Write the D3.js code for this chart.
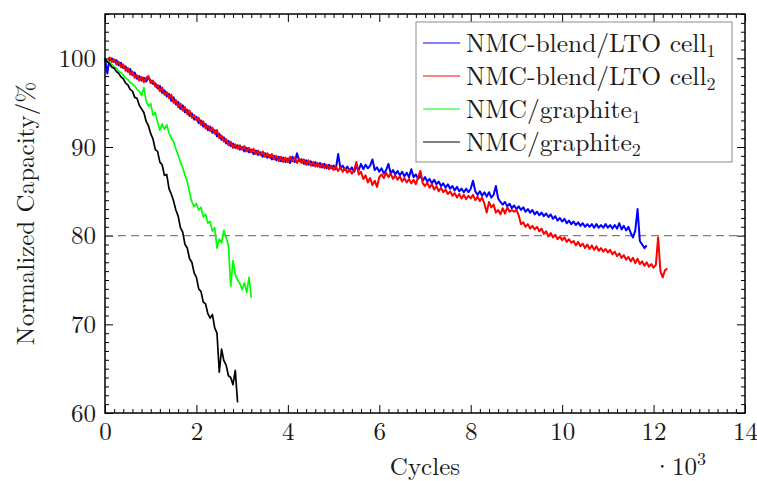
<!DOCTYPE html>
<html>
<head>
<meta charset="utf-8">
<script src="https://cdn.jsdelivr.net/npm/d3@7"></script>
<style>
  body { margin: 0; background: #fff; }
</style>
</head>
<body>
<div id="chart"></div>
<script>
// one reading every 50 cycles, values in % of initial capacity
var cycleStep = 50;

var ltoCell1 = [
  100.0, 98.3, 99.9, 100.0, 99.6, 99.8, 99.2, 99.5, 98.9, 99.1, 98.5, 98.8, 98.1, 98.4, 97.7, 98.0, 97.5, 97.8, 97.4, 97.8,
  97.5, 97.1, 97.2, 96.6, 96.9, 96.1, 96.4, 95.7, 96.0, 95.2, 95.6, 94.8, 95.1, 94.3, 94.7, 93.9, 94.2, 93.5, 93.8, 93.1,
  93.4, 92.7, 93.0, 92.3, 92.6, 91.9, 92.3, 91.6, 91.9, 91.2, 91.5, 90.8, 91.1, 90.4, 90.7, 90.1, 90.4, 89.9, 90.2, 89.7,
  90.0, 89.5, 89.9, 89.4, 89.7, 89.2, 89.6, 89.1, 89.4, 88.9, 89.3, 88.8, 89.1, 88.6, 89.0, 88.5, 88.9, 88.4, 88.8, 88.3,
  88.7, 88.2, 88.9, 88.3, 89.3, 88.4, 88.6, 88.1, 88.5, 88.0, 88.4, 87.9, 88.3, 87.8, 88.2, 87.7, 88.1, 87.6, 88.0, 87.6,
  87.9, 87.5, 89.2, 87.6, 87.9, 87.4, 87.8, 87.3, 87.7, 87.2, 87.8, 87.4, 88.1, 87.5, 88.0, 87.6, 87.9, 88.6, 87.4, 87.7,
  87.2, 87.6, 87.0, 87.4, 88.1, 87.0, 87.4, 86.9, 87.3, 86.8, 87.2, 86.7, 87.1, 86.6, 87.5, 86.6, 86.9, 86.4, 86.8, 86.2,
  86.6, 86.1, 86.4, 85.9, 86.3, 85.8, 86.1, 85.6, 85.9, 85.4, 85.8, 85.3, 85.6, 85.1, 85.5, 85.0, 85.3, 84.9, 85.3, 84.9,
  85.3, 86.2, 85.0, 84.6, 85.0, 84.5, 84.9, 84.4, 84.9, 84.3, 84.6, 85.6, 84.2, 83.8, 83.5, 83.8, 83.3, 83.6, 83.1, 83.4,
  83.0, 83.3, 82.9, 83.2, 82.7, 83.0, 82.6, 82.9, 82.4, 82.7, 82.3, 82.6, 82.2, 82.5, 82.1, 82.4, 81.9, 82.2, 81.7, 82.0,
  81.6, 81.9, 81.4, 81.7, 81.3, 81.6, 81.2, 81.5, 81.1, 81.4, 81.0, 81.3, 81.0, 81.3, 80.9, 81.3, 80.9, 81.2, 80.9, 81.3,
  80.9, 81.2, 80.8, 81.2, 80.8, 81.4, 80.7, 81.1, 80.6, 81.0, 80.3, 79.8, 80.6, 83.0, 79.4, 79.0, 78.6, 78.9
];

var ltoCell2 = [
  100.0, 99.8, 100.1, 99.6, 99.9, 99.3, 99.6, 99.0, 99.3, 98.6, 98.9, 98.2, 98.5, 97.8, 98.1, 97.5, 97.9, 97.3, 97.8, 98.0,
  97.2, 97.5, 96.8, 97.0, 96.3, 96.7, 95.9, 96.2, 95.5, 95.9, 95.0, 95.3, 94.5, 94.9, 94.1, 94.5, 93.7, 94.1, 93.3, 93.6,
  93.0, 93.3, 92.5, 92.9, 92.1, 92.4, 91.8, 92.2, 91.5, 91.9, 91.0, 91.3, 90.6, 90.9, 90.2, 90.6, 89.9, 90.3, 89.8, 90.2,
  89.7, 90.1, 89.5, 89.9, 89.4, 89.8, 89.2, 89.6, 89.1, 89.5, 88.9, 89.3, 88.8, 89.2, 88.6, 89.0, 88.4, 88.9, 88.3, 88.8,
  88.3, 88.9, 88.4, 88.8, 88.2, 88.7, 88.2, 88.6, 88.0, 88.5, 87.9, 88.3, 87.8, 88.2, 87.7, 88.1, 87.6, 88.0, 87.5, 87.9,
  87.4, 87.8, 87.3, 87.7, 87.2, 87.6, 87.1, 87.5, 87.0, 87.4, 88.3, 86.9, 87.2, 86.4, 86.8, 86.0, 86.5, 85.7, 86.2, 85.5,
  86.6, 86.9, 86.5, 87.1, 86.6, 87.0, 86.4, 86.8, 86.3, 86.7, 86.1, 86.5, 86.0, 86.4, 85.9, 86.3, 85.8, 86.6, 87.3, 85.9,
  85.6, 86.0, 85.4, 85.8, 85.2, 85.6, 85.0, 85.4, 84.9, 85.2, 84.7, 85.0, 84.5, 84.8, 84.3, 84.7, 84.2, 84.6, 84.1, 84.5,
  84.2, 84.6, 84.0, 84.4, 83.9, 84.3, 83.6, 82.6, 83.8, 83.2, 83.5, 82.6, 82.9, 82.4, 83.1, 82.5, 83.2, 82.7, 82.9, 82.7,
  82.9, 82.3, 81.3, 81.5, 81.0, 81.3, 80.8, 81.1, 80.7, 81.0, 80.5, 80.8, 80.2, 80.5, 79.9, 80.3, 79.8, 80.1, 79.6, 79.9,
  79.5, 79.8, 79.3, 79.6, 79.2, 79.4, 78.9, 79.3, 78.8, 79.1, 78.6, 79.0, 78.5, 78.9, 78.4, 78.8, 78.3, 78.6, 78.2, 78.5,
  78.1, 78.4, 77.9, 78.2, 77.7, 78.0, 77.5, 77.8, 77.3, 77.6, 77.1, 77.5, 76.9, 77.4, 76.8, 77.1, 76.6, 77.0, 76.5, 76.8,
  76.4, 76.7, 79.8, 76.0, 75.3, 76.1, 76.3
];

var graphite1 = [
  100.0, 99.8, 99.5, 99.3, 99.0, 98.9, 98.5, 98.4, 98.1, 97.8,
  97.6, 97.3, 97.1, 96.9, 96.5, 96.3, 95.8, 96.7, 95.2, 94.6,
  94.9, 93.6, 93.9, 92.8, 91.9, 92.6, 92.0, 92.5, 91.6, 91.0,
  90.6, 89.8, 89.1, 88.3, 87.7, 86.8, 86.1, 84.9, 83.8, 83.3,
  83.6, 82.9, 83.2, 82.1, 82.4, 81.4, 81.6, 80.5, 80.9, 78.6,
  79.6, 79.2, 80.6, 79.8, 78.9, 74.3, 77.2, 75.6, 75.0, 74.6,
  73.9, 74.7, 73.6, 75.3, 73.0
];

var graphite2 = [
  100.0, 99.6, 99.4, 99.0, 98.9, 98.5, 98.3, 97.9, 97.7, 97.2,
  97.0, 96.5, 96.3, 95.6, 95.5, 94.7, 94.3, 93.9, 92.9, 92.4,
  91.5, 90.9, 89.7, 89.5, 88.3, 88.0, 86.8, 86.9, 85.3, 84.7,
  83.9, 82.9, 82.2, 80.9, 80.4, 79.0, 78.6, 77.4, 77.0, 75.8,
  75.3, 74.0, 73.7, 72.5, 72.3, 71.2, 70.7, 71.1, 69.6, 69.0,
  64.6, 67.2, 65.9, 65.4, 64.2, 64.0, 63.2, 64.8, 61.2
];

var seriesNames = [["NMC-blend/LTO cell", "1"], ["NMC-blend/LTO cell", "2"], ["NMC/graphite", "1"], ["NMC/graphite", "2"]];
var seriesColors = ["#0000ff", "#ff0000", "#00ff00", "#000000"];
var xTicks = [0, 2, 4, 6, 8, 10, 12, 14];   // thousands of cycles
var yTicks = [60, 70, 80, 90, 100];
var eolLimit = 80;

var serif = "'Latin Modern Roman', 'Liberation Serif', serif";
var textColor = "#1a1a1a";

var width = 757, height = 481;
var margin = {top: 14, right: 12, bottom: 68, left: 105};
var plotW = width - margin.left - margin.right,
    plotH = height - margin.top - margin.bottom;

var x = d3.scaleLinear().domain([0, 14]).range([0, plotW]);
var y = d3.scaleLinear().domain([60, 105]).range([plotH, 0]);

var svg = d3.select("#chart").append("svg")
    .attr("width", width)
    .attr("height", height);

var g = svg.append("g")
    .attr("transform", "translate(" + margin.left + "," + margin.top + ")");

var xMinor = d3.range(0, 14.001, 0.2).filter(function(v) { return Math.abs(v / 2 - Math.round(v / 2)) > 1e-6; });
var yMinor = d3.range(60, 105.001, 1).filter(function(v) { return v % 10 !== 0; });

function styleAxis(sel) {
  sel.attr("font-family", null).attr("font-size", null);
  sel.select(".domain").remove();
  sel.selectAll("line").attr("stroke", "#000").attr("stroke-width", 1);
  sel.selectAll("text")
    .attr("fill", textColor)
    .style("font-family", serif)
    .style("font-size", "25px");
}

// bottom
g.append("g").attr("transform", "translate(0," + plotH + ")")
  .call(d3.axisBottom(x).tickValues(xTicks).tickSizeInner(-8).tickSizeOuter(0).tickPadding(9).tickFormat(d3.format("d")))
  .call(styleAxis);
g.append("g").attr("transform", "translate(0," + plotH + ")")
  .call(d3.axisBottom(x).tickValues(xMinor).tickSizeInner(-4).tickSizeOuter(0).tickFormat(""))
  .call(styleAxis);
// top
g.append("g")
  .call(d3.axisTop(x).tickValues(xTicks).tickSizeInner(-8).tickSizeOuter(0).tickFormat(""))
  .call(styleAxis);
g.append("g")
  .call(d3.axisTop(x).tickValues(xMinor).tickSizeInner(-4).tickSizeOuter(0).tickFormat(""))
  .call(styleAxis);
// left
g.append("g")
  .call(d3.axisLeft(y).tickValues(yTicks).tickSizeInner(-8).tickSizeOuter(0).tickPadding(9).tickFormat(d3.format("d")))
  .call(styleAxis);
g.append("g")
  .call(d3.axisLeft(y).tickValues(yMinor).tickSizeInner(-4).tickSizeOuter(0).tickFormat(""))
  .call(styleAxis);
// right
g.append("g").attr("transform", "translate(" + plotW + ",0)")
  .call(d3.axisRight(y).tickValues(yTicks).tickSizeInner(-8).tickSizeOuter(0).tickFormat(""))
  .call(styleAxis);
g.append("g").attr("transform", "translate(" + plotW + ",0)")
  .call(d3.axisRight(y).tickValues(yMinor).tickSizeInner(-4).tickSizeOuter(0).tickFormat(""))
  .call(styleAxis);

// end-of-life line
g.append("line")
  .attr("x1", 0).attr("x2", plotW)
  .attr("y1", y(eolLimit)).attr("y2", y(eolLimit))
  .attr("stroke", "#7f7f7f")
  .attr("stroke-width", 1.3)
  .attr("stroke-dasharray", "8,5");

var line = d3.line()
  .x(function(d, i) { return x(i * cycleStep / 1000); })
  .y(function(d) { return y(d); });

var allSeries = [ltoCell1, ltoCell2, graphite1, graphite2];
var seriesWidths = [2.0, 2.0, 1.7, 1.7];

g.selectAll("path.series")
    .data(allSeries)
    .enter()
  .append("path")
    .attr("class", "series")
    .attr("d", line)
    .attr("fill", "none")
    .attr("stroke", function(d, i) { return seriesColors[i]; })
    .attr("stroke-width", function(d, i) { return seriesWidths[i]; })
    .attr("stroke-linejoin", "round");

// frame
g.append("rect")
  .attr("width", plotW).attr("height", plotH)
  .attr("fill", "none")
  .attr("stroke", "#000")
  .attr("stroke-width", 1.5);

// legend
var legend = svg.append("g").attr("transform", "translate(416,22)");
legend.append("rect")
  .attr("width", 316).attr("height", 140)
  .attr("fill", "#fff")
  .attr("stroke", "#8c8c8c")
  .attr("stroke-width", 1);

var items = legend.selectAll("g.item")
    .data(seriesNames)
    .enter()
  .append("g")
    .attr("class", "item")
    .attr("transform", function(d, i) { return "translate(0," + (21 + i * 33) + ")"; });

items.append("line")
  .attr("x1", 7).attr("x2", 44)
  .attr("stroke", function(d, i) { return seriesColors[i]; })
  .attr("stroke-width", 1.2);

var lt = items.append("text")
  .attr("x", 50)
  .attr("y", 9)
  .attr("fill", textColor)
  .style("font-family", serif)
  .style("font-size", "25.5px");
lt.append("tspan").text(function(d) { return d[0]; });
lt.append("tspan").attr("dy", 5).style("font-size", "18px").text(function(d) { return d[1]; });

// axis titles
svg.append("text")
  .attr("transform", "translate(34," + (margin.top + y(82.5)) + ") rotate(-90)")
  .attr("text-anchor", "middle")
  .attr("fill", textColor)
  .style("font-family", serif)
  .style("font-size", "25px")
  .text("Normalized Capacity/%");

svg.append("text")
  .attr("x", margin.left + x(7))
  .attr("y", 475)
  .attr("text-anchor", "middle")
  .attr("fill", textColor)
  .style("font-family", serif)
  .style("font-size", "25px")
  .text("Cycles");

var mult = svg.append("text")
  .attr("x", margin.left + x(12.0) - 1)
  .attr("y", 475)
  .attr("fill", textColor)
  .style("font-family", serif)
  .style("font-size", "25px");
mult.append("tspan").text("\u00b710");
mult.append("tspan").attr("dy", -10).style("font-size", "18px").text("3");
</script>
</body>
</html>
